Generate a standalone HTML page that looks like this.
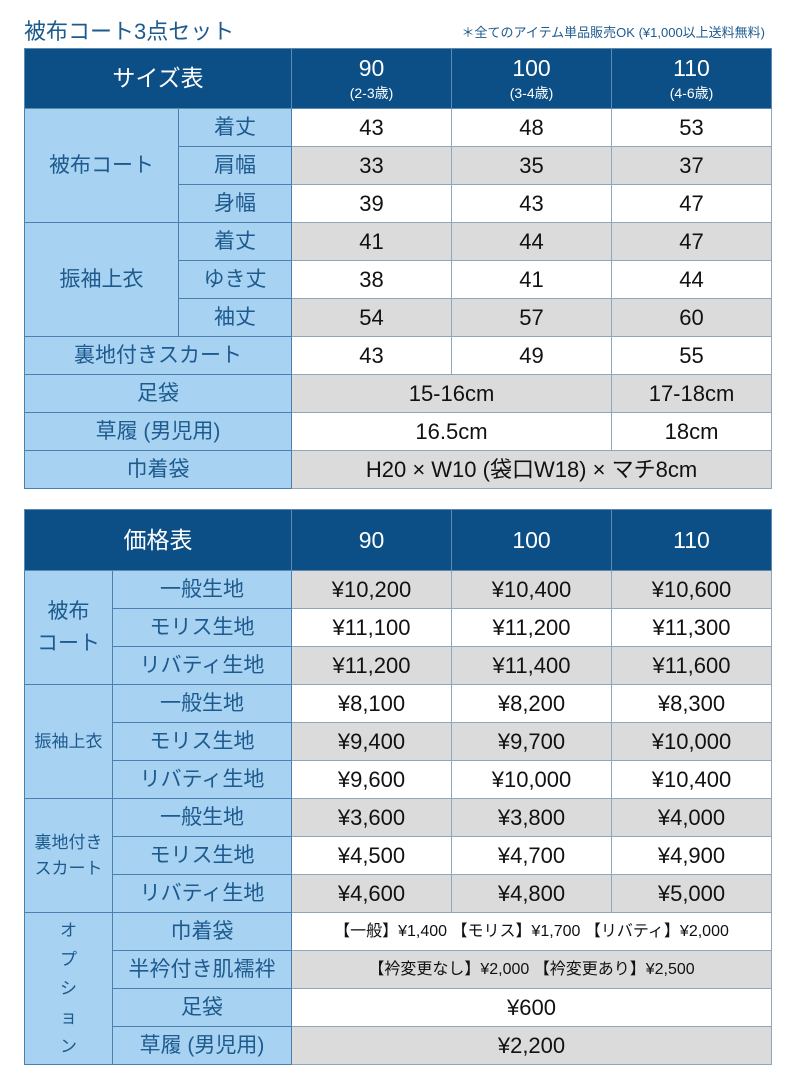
<!DOCTYPE html>
<html><head><meta charset="utf-8"><style>
body{margin:0;width:793px;height:1080px;background:#fff;font-family:"Liberation Sans","Noto Sans CJK JP",sans-serif;position:relative;overflow:hidden}
.t{position:absolute;top:14px;left:24px;font-size:22px;color:#1d5a8e}
.n{position:absolute;top:22px;right:28px;font-size:13px;color:#1d5a8e}
table{position:absolute;left:24px;border-collapse:collapse;table-layout:fixed;width:747px}
td{border:1px solid #8fa6bd;text-align:center;padding:0;height:37px;font-size:22px;color:#111;line-height:1}
td.h{background:#0c4f87;color:#fff;border-color:#5d8ab3;font-size:23px}
td.l{background:#a8d2f1;color:#1d5a8e;border-color:#4c7fae;font-size:21px}
tr.g td.d{background:#dcdbdb}
.s{font-size:14px;display:block;margin-top:6px}
.sm{font-size:18px}
</style></head><body>
<div class="t">被布コート3点セット</div>
<div class="n">＊全てのアイテム単品販売OK (¥1,000以上送料無料)</div>
<table style="top:48px">
<colgroup><col style="width:154px"><col style="width:113px"><col style="width:160px"><col style="width:160px"><col style="width:160px"></colgroup>
<tr><td class="h" colspan="2" style="height:59px">サイズ表</td><td class="h">90<span class="s">(2-3歳)</span></td><td class="h">100<span class="s">(3-4歳)</span></td><td class="h">110<span class="s">(4-6歳)</span></td></tr>
<tr><td class="l" rowspan="3">被布コート</td><td class="l">着丈</td><td class="d">43</td><td class="d">48</td><td class="d">53</td></tr>
<tr class="g"><td class="l">肩幅</td><td class="d">33</td><td class="d">35</td><td class="d">37</td></tr>
<tr><td class="l">身幅</td><td class="d">39</td><td class="d">43</td><td class="d">47</td></tr>
<tr class="g"><td class="l" rowspan="3">振袖上衣</td><td class="l">着丈</td><td class="d">41</td><td class="d">44</td><td class="d">47</td></tr>
<tr><td class="l">ゆき丈</td><td class="d">38</td><td class="d">41</td><td class="d">44</td></tr>
<tr class="g"><td class="l">袖丈</td><td class="d">54</td><td class="d">57</td><td class="d">60</td></tr>
<tr><td class="l" colspan="2">裏地付きスカート</td><td class="d">43</td><td class="d">49</td><td class="d">55</td></tr>
<tr class="g"><td class="l" colspan="2">足袋</td><td class="d" colspan="2">15-16cm</td><td class="d">17-18cm</td></tr>
<tr><td class="l" colspan="2">草履 (男児用)</td><td class="d" colspan="2">16.5cm</td><td class="d">18cm</td></tr>
<tr class="g"><td class="l" colspan="2">巾着袋</td><td class="d" colspan="3">H20 × W10 (袋口W18) × マチ8cm</td></tr>
</table>
<table style="top:509px">
<colgroup><col style="width:88px"><col style="width:179px"><col style="width:160px"><col style="width:160px"><col style="width:160px"></colgroup>
<tr><td class="h" colspan="2" style="height:60px">価格表</td><td class="h">90</td><td class="h">100</td><td class="h">110</td></tr>
<tr class="g"><td class="l sm" rowspan="3" style="line-height:1.5">被布<br>コート</td><td class="l">一般生地</td><td class="d">¥10,200</td><td class="d">¥10,400</td><td class="d">¥10,600</td></tr>
<tr><td class="l">モリス生地</td><td class="d">¥11,100</td><td class="d">¥11,200</td><td class="d">¥11,300</td></tr>
<tr class="g"><td class="l">リバティ生地</td><td class="d">¥11,200</td><td class="d">¥11,400</td><td class="d">¥11,600</td></tr>
<tr><td class="l sm" rowspan="3" style="font-size:17px">振袖上衣</td><td class="l">一般生地</td><td class="d">¥8,100</td><td class="d">¥8,200</td><td class="d">¥8,300</td></tr>
<tr class="g"><td class="l">モリス生地</td><td class="d">¥9,400</td><td class="d">¥9,700</td><td class="d">¥10,000</td></tr>
<tr><td class="l">リバティ生地</td><td class="d">¥9,600</td><td class="d">¥10,000</td><td class="d">¥10,400</td></tr>
<tr class="g"><td class="l sm" rowspan="3" style="line-height:1.5;font-size:17px">裏地付き<br>スカート</td><td class="l">一般生地</td><td class="d">¥3,600</td><td class="d">¥3,800</td><td class="d">¥4,000</td></tr>
<tr><td class="l">モリス生地</td><td class="d">¥4,500</td><td class="d">¥4,700</td><td class="d">¥4,900</td></tr>
<tr class="g"><td class="l">リバティ生地</td><td class="d">¥4,600</td><td class="d">¥4,800</td><td class="d">¥5,000</td></tr>
<tr><td class="l sm" rowspan="4" style="line-height:29px;font-size:17px">オ<br>プ<br>シ<br>ョ<br>ン</td><td class="l">巾着袋</td><td class="d" colspan="3" style="font-size:16px">【一般】¥1,400 【モリス】¥1,700 【リバティ】¥2,000</td></tr>
<tr class="g"><td class="l">半衿付き肌襦袢</td><td class="d" colspan="3" style="font-size:16px">【衿変更なし】¥2,000 【衿変更あり】¥2,500</td></tr>
<tr><td class="l">足袋</td><td class="d" colspan="3">¥600</td></tr>
<tr class="g"><td class="l">草履 (男児用)</td><td class="d" colspan="3">¥2,200</td></tr>
</table>
</body></html>
